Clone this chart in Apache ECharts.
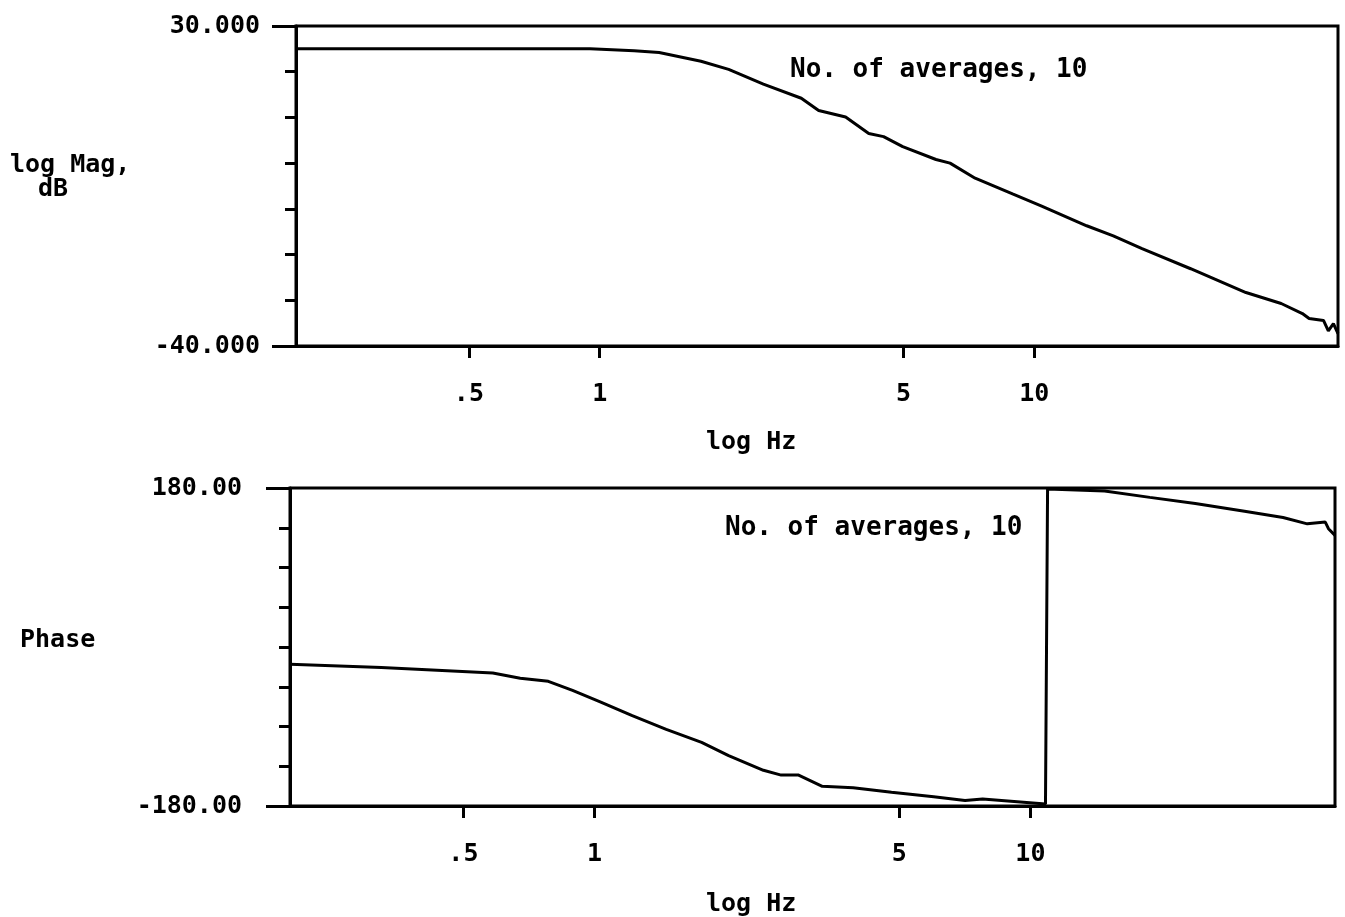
<!DOCTYPE html>
<html>
<head>
<meta charset="utf-8">
<script src="https://cdn.jsdelivr.net/npm/echarts@6/dist/echarts.min.js"></script>
<style>
  html, body { margin: 0; padding: 0; background: #fff; }
  #chart { width: 1345px; height: 917px; }
</style>
</head>
<body>
<div id="chart"></div>
<script>
// frequency axis ticks (Hz)
const xTicks = [0.5, 1, 5, 10]
const xTickLabels = ['.5', '1', '5', '10']

// top panel: log magnitude, dB
const magFreq = [0.2, 0.3, 0.5, 0.7, 0.95, 1.2, 1.37, 1.71, 1.98, 2.38, 2.91, 3.19, 3.68, 4.16, 4.5, 4.98,
  5.94, 6.4, 7.31, 8.94, 10.4, 13.2, 15.2, 17.7, 22.9, 30.7, 37, 41.4, 42.9, 46.3, 47.5, 48.8, 50]
const magDb = [25.0, 25.0, 25.0, 25.05, 25.0, 24.6, 24.2, 22.3, 20.5, 17.3, 14.2, 11.5, 10.1, 6.5, 5.8, 3.6,
  0.8, 0.0, -3.3, -6.8, -9.4, -13.7, -15.9, -18.7, -23.1, -28.3, -30.7, -32.9, -34.0, -34.4, -36.7, -35.1, -37.3]
const magTicks = [30, -40]
const magTickLabels = ['30.000', '-40.000']

// bottom panel: phase, degrees (wraps from -180 to 180 near 11 Hz)
const phaseFreq = [0.2, 0.324, 0.584, 0.675, 0.783, 0.89, 1.03, 1.22, 1.46, 1.76, 2.03, 2.44, 2.68, 2.93, 3.33,
  3.92, 4.8, 6.0, 7.08, 7.77, 10.83, 10.9, 10.95, 14.8, 18.8, 23.9, 31.0, 38.0, 43.2, 47.5, 48.3, 50]
const phaseDeg = [-19.5, -23.2, -29.4, -35.3, -38.9, -49.1, -62, -77.8, -93.3, -108, -122.9, -139.6, -145, -144.8, -157.7,
  -159.3, -164.5, -169.6, -173.7, -172, -177.8, -179.5, 179, 176.5, 169.4, 162.4, 153.6, 146.6, 139.4, 141.4, 133.9, 126.4]
const phaseTicks = [180, -180]
const phaseTickLabels = ['180.00', '-180.00']

const FONT = 'DejaVu Sans Mono'
const LW = 3

function xAxisFor(gridIndex) {
  return {
    type: 'log',
    gridIndex: gridIndex,
    min: 0.2,
    max: 50,
    axisLine: { show: true, onZero: false, lineStyle: { color: '#000', width: LW } },
    axisTick: { show: true, customValues: xTicks, length: 12, lineStyle: { color: '#000', width: LW } },
    axisLabel: {
      customValues: xTicks,
      margin: 36,
      fontFamily: FONT,
      fontWeight: 'bold',
      fontSize: 25,
      color: '#000',
      formatter: function (v) {
        const i = xTicks.findIndex(t => Math.abs(t - v) < 1e-6)
        return i >= 0 ? xTickLabels[i] : ''
      }
    },
    splitLine: { show: false },
    minorTick: { show: false }
  }
}

function yAxisFor(gridIndex, min, max, interval, ends, endLabels, margin) {
  return {
    type: 'value',
    gridIndex: gridIndex,
    min: min,
    max: max,
    interval: interval,
    axisLine: { show: true, lineStyle: { color: '#000', width: LW } },
    axisTick: { show: true, length: 11, lineStyle: { color: '#000', width: LW } },
    axisLabel: {
      margin: margin,
      fontFamily: FONT,
      fontWeight: 'bold',
      fontSize: 25,
      color: '#000',
      formatter: function (v) {
        const i = ends.indexOf(v)
        return i >= 0 ? endLabels[i] : ''
      }
    },
    splitLine: { show: false }
  }
}

// second axis only to draw the longer end ticks at min / max
function endTickAxis(gridIndex, min, max, ends) {
  return {
    type: 'value',
    gridIndex: gridIndex,
    min: min,
    max: max,
    position: 'left',
    axisLine: { show: false },
    axisTick: { show: true, customValues: ends, length: 24, lineStyle: { color: '#000', width: LW } },
    axisLabel: { show: false },
    splitLine: { show: false }
  }
}

function label(text, x, y, size) {
  return {
    type: 'text', x: x, y: y,
    style: { text: text, fontFamily: FONT, fontWeight: 'bold', fontSize: size || 25, fill: '#000', verticalAlign: 'middle' }
  }
}

const chart = echarts.init(document.getElementById('chart'))
chart.setOption({
  animation: false,
  backgroundColor: '#fff',
  grid: [
    { left: 296, top: 26, right: 7, height: 320, show: true, borderColor: '#000', borderWidth: LW },
    { left: 290, top: 488, right: 10, height: 318, show: true, borderColor: '#000', borderWidth: LW }
  ],
  xAxis: [xAxisFor(0), xAxisFor(1)],
  yAxis: [
    yAxisFor(0, -40, 30, 10, magTicks, magTickLabels, 36),
    yAxisFor(1, -180, 180, 45, phaseTicks, phaseTickLabels, 48),
    endTickAxis(0, -40, 30, magTicks),
    endTickAxis(1, -180, 180, phaseTicks)
  ],
  graphic: [
    label('log Mag,', 10, 165),
    label('dB', 38, 189),
    label('Phase', 20, 640),
    label('log Hz', 706, 442),
    label('log Hz', 706, 904),
    label('No. of averages, 10', 790, 70, 26),
    label('No. of averages, 10', 725, 528, 26)
  ],
  series: [
    {
      name: 'log Mag',
      type: 'line',
      xAxisIndex: 0,
      yAxisIndex: 0,
      showSymbol: false,
      lineStyle: { color: '#000', width: 3 },
      data: magFreq.map((f, i) => [f, magDb[i]])
    },
    {
      name: 'Phase',
      type: 'line',
      xAxisIndex: 1,
      yAxisIndex: 1,
      showSymbol: false,
      lineStyle: { color: '#000', width: 3 },
      data: phaseFreq.map((f, i) => [f, phaseDeg[i]])
    }
  ]
})
</script>
</body>
</html>
